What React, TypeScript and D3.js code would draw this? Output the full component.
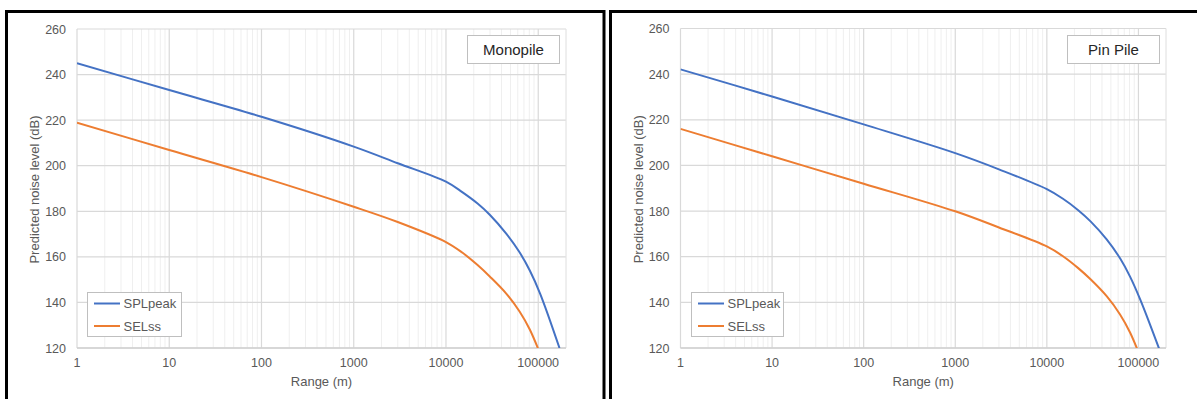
import React from 'react';
import * as d3 from 'd3';

// ---- data ----
const ranges = [1, 10, 100, 1000, 3000, 10000, 15000, 22000, 30000, 45000, 63000, 81000, 105000, 170000];
const monopileSPLpeak = [245, 233.2, 221.5, 208.4, 201.1, 193, 188.4, 183.4, 178.4, 170.2, 161.9, 154, 143.8, 120];
const monopileSELss = [218.9, 206.9, 195, 182, 175.3, 166.5, 161.9, 156.4, 151.3, 143.9, 135.9, 128.1, 117.4, null];
const pinPileSPLpeak = [242.1, 230.2, 218, 205.4, 198.3, 189.6, 185.4, 180.4, 175.5, 167.6, 159.3, 151.3, 141.1, 119.2];
const pinPileSELss = [216, 204, 192, 179.9, 172.8, 164.5, 160.2, 155, 150.1, 142.7, 134.7, 126.8, 116.1, null];
const yTicks = [120, 140, 160, 180, 200, 220, 240, 260];
const xTickValues = [1, 10, 100, 1000, 10000, 100000];
const xTickLabels = ['1', '10', '100', '1000', '10000', '100000'];
const seriesNames = ['SPLpeak', 'SELss'];
const panelTitles = ['Monopile', 'Pin Pile'];
const xAxisTitle = 'Range (m)';
const yAxisTitle = 'Predicted noise level (dB)';

// ---- style / layout ----
const COLORS = ['#4472C4', '#ED7D31'];
const FONT = '"Liberation Sans", Arial, sans-serif';
const panels = [
  {
    title: panelTitles[0],
    series: [monopileSPLpeak, monopileSELss],
    border: { x: 6.5, y: 11.5, w: 597.5, h: 420 },
    plot: { l: 77, r: 566, t: 29, b: 348 },
    titleBox: { x: 467.5, y: 35.5, w: 92, h: 28 },
    legend: { x: 87.5, y: 292.5, w: 94, h: 44 },
  },
  {
    title: panelTitles[1],
    series: [pinPileSPLpeak, pinPileSELss],
    border: { x: 610.5, y: 11.5, w: 620, h: 420 },
    plot: { l: 680.5, r: 1166, t: 28.5, b: 348 },
    titleBox: { x: 1067.5, y: 35.5, w: 92, h: 28 },
    legend: { x: 691.5, y: 292.5, w: 92, h: 44 },
  },
];

const gridValues: { v: number; major: boolean }[] = [];
for (let d = 0; d <= 5; d++) {
  for (let k = 1; k <= 9; k++) {
    const v = k * Math.pow(10, d);
    if (v <= 200000) gridValues.push({ v, major: k === 1 });
  }
}

function Panel({ p, idx }: { p: (typeof panels)[number]; idx: number }) {
  const x = d3.scaleLog().domain([1, 200000]).range([p.plot.l, p.plot.r]);
  const y = d3.scaleLinear().domain([120, 260]).range([p.plot.b, p.plot.t]);
  const clipId = `clip-${idx}`;
  const line = d3
    .line<{ r: number; v: number | null }>()
    .defined((d) => d.v !== null)
    .x((d) => x(d.r))
    .y((d) => y(d.v as number))
    .curve(d3.curveCatmullRom.alpha(0.5));
  const midX = (p.plot.l + p.plot.r) / 2;
  const midY = (p.plot.t + p.plot.b) / 2;
  return (
    <g>
      <rect x={p.border.x} y={p.border.y} width={p.border.w} height={p.border.h} fill="#fff" stroke="#000" strokeWidth={3} />
      <defs>
        <clipPath id={clipId}>
          <rect x={p.plot.l} y={p.plot.t - 2} width={p.plot.r - p.plot.l} height={p.plot.b - p.plot.t + 2} />
        </clipPath>
      </defs>
      {gridValues.filter((g) => !g.major).map((g, i) => (
        <line key={'mv' + i} x1={x(g.v)} x2={x(g.v)} y1={p.plot.t} y2={p.plot.b} stroke="#efefef" strokeWidth={1} />
      ))}
      {yTicks.map((t) => (
        <line key={'h' + t} x1={p.plot.l} x2={p.plot.r} y1={y(t)} y2={y(t)} stroke="#d9d9d9" strokeWidth={1.2} />
      ))}
      {gridValues.filter((g) => g.major).map((g, i) => (
        <line key={'Mv' + i} x1={x(g.v)} x2={x(g.v)} y1={p.plot.t} y2={p.plot.b} stroke="#d9d9d9" strokeWidth={1.2} />
      ))}
      <line x1={p.plot.r} x2={p.plot.r} y1={p.plot.t} y2={p.plot.b} stroke="#e6e6e6" strokeWidth={1} />
      <line x1={p.plot.l} x2={p.plot.r} y1={p.plot.b} y2={p.plot.b} stroke="#d0d0d0" strokeWidth={1.5} />
      <g clipPath={`url(#${clipId})`}>
        {p.series.map((vals, si) => (
          <path
            key={si}
            d={line(ranges.map((r, i) => ({ r, v: vals[i] as number | null }))) || ''}
            fill="none"
            stroke={COLORS[si]}
            strokeWidth={2}
          />
        ))}
      </g>
      {yTicks.map((t) => (
        <text key={'yt' + t} x={p.plot.l - 11} y={y(t) + 4.5} textAnchor="end" fontSize={12.5} fill="#595959" fontFamily={FONT}>
          {t}
        </text>
      ))}
      {xTickValues.map((t, i) => (
        <text key={'xt' + t} x={x(t)} y={p.plot.b + 19} textAnchor="middle" fontSize={12.5} fill="#595959" fontFamily={FONT}>
          {xTickLabels[i]}
        </text>
      ))}
      <text x={midX} y={p.plot.b + 38} textAnchor="middle" fontSize={13} fill="#595959" fontFamily={FONT}>
        {xAxisTitle}
      </text>
      <text
        transform={`translate(${p.plot.l - 38},${midY + 1}) rotate(-90)`}
        textAnchor="middle"
        fontSize={13}
        fill="#595959"
        fontFamily={FONT}
      >
        {yAxisTitle}
      </text>
      <rect x={p.titleBox.x} y={p.titleBox.y} width={p.titleBox.w} height={p.titleBox.h} fill="#fff" stroke="#bfbfbf" strokeWidth={1} />
      <text x={p.titleBox.x + p.titleBox.w / 2} y={p.titleBox.y + 19.5} textAnchor="middle" fontSize={15} fill="#262626" fontFamily={FONT}>
        {p.title}
      </text>
      <rect x={p.legend.x} y={p.legend.y} width={p.legend.w} height={p.legend.h} fill="#fff" stroke="#bfbfbf" strokeWidth={1} />
      {seriesNames.map((n, si) => (
        <g key={n}>
          <line
            x1={p.legend.x + 6.5}
            x2={p.legend.x + 32.5}
            y1={p.legend.y + 11 + si * 22.5}
            y2={p.legend.y + 11 + si * 22.5}
            stroke={COLORS[si]}
            strokeWidth={2}
          />
          <text x={p.legend.x + 36} y={p.legend.y + 15.5 + si * 22.5} fontSize={13} fill="#595959" fontFamily={FONT}>
            {n}
          </text>
        </g>
      ))}
    </g>
  );
}

export default function App() {
  return (
    <svg width={1197} height={399} style={{ position: 'absolute', left: 0, top: 0, background: '#fff' }}>
      <rect x={0} y={0} width={1197} height={399} fill="#fff" />
      {panels.map((p, i) => (
        <Panel key={i} p={p} idx={i} />
      ))}
    </svg>
  );
}
